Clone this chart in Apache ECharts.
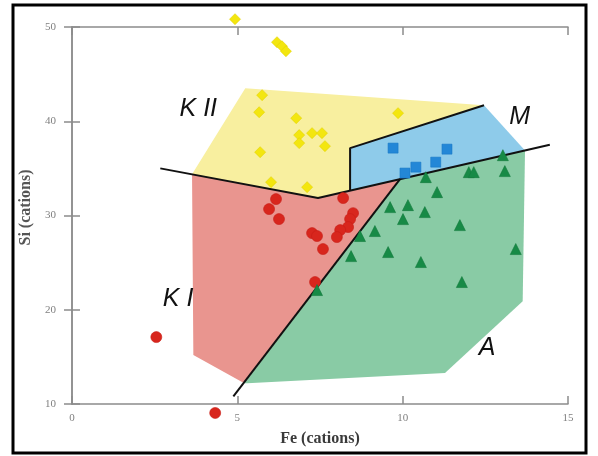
<!DOCTYPE html>
<html>
<head>
<meta charset="utf-8">
<script src="https://cdn.jsdelivr.net/npm/echarts@6/dist/echarts.min.js"></script>
<style>
  html, body { margin: 0; padding: 0; background: #fff; }
  #chart { width: 598px; height: 456px; }
</style>
</head>
<body>
<div id="chart"></div>
<script>
// Fe vs Si (cations) discrimination diagram: fields K I, K II, M, A

// Field polygons [Fe, Si]
const fieldKII = [[5.24, 43.5], [12.46, 41.7], [8.41, 37.15], [8.41, 32.63], [7.44, 31.85], [3.63, 34.37]];
const fieldKI  = [[3.63, 34.37], [7.44, 31.85], [9.92, 33.85], [5.21, 12.2], [3.67, 15.2]];
const fieldA   = [[5.21, 12.2], [9.92, 33.85], [13.7, 36.9], [13.63, 20.9], [11.28, 13.3], [5.3, 12.2]];
const fieldM   = [[8.41, 32.63], [8.41, 37.15], [12.46, 41.7], [13.7, 36.9]];

// Boundary lines
const lineK  = [[2.67, 35.0], [7.44, 31.85], [14.45, 37.5]];
const lineKA = [[4.88, 10.8], [4.94, 10.95], [9.92, 33.85]];
const lineM  = [[8.41, 32.63], [8.41, 37.15], [12.46, 41.7]];

// Samples [Fe, Si]
const groupKII = [
  [4.93, 50.83], [6.20, 48.39], [6.35, 47.96], [6.47, 47.43], [5.75, 42.77],
  [5.66, 40.96], [6.78, 40.33], [6.87, 38.53], [7.26, 38.74], [7.56, 38.74],
  [6.87, 37.68], [7.65, 37.36], [5.69, 36.72], [6.02, 33.54], [7.11, 33.01],
  [9.86, 40.86]
];
const groupKI = [
  [6.17, 31.74], [5.96, 30.68], [6.26, 29.62], [8.20, 31.85], [8.50, 30.25],
  [8.41, 29.62], [8.35, 28.77], [8.11, 28.45], [8.01, 27.71], [7.26, 28.13],
  [7.41, 27.82], [7.59, 26.44], [7.35, 22.94], [2.55, 17.1], [4.33, 9.05]
];
const groupM = [[9.71, 37.15], [11.34, 37.04], [10.40, 35.13], [11.0, 35.66], [10.07, 34.5]];
const groupA = [
  [10.70, 34.07], [12.0, 34.6], [12.15, 34.6], [13.03, 36.4], [13.09, 34.71],
  [11.04, 32.48], [9.62, 30.89], [10.16, 31.10], [10.67, 30.36], [10.01, 29.62],
  [11.73, 28.98], [9.16, 28.35], [8.71, 27.82], [8.44, 25.69], [9.56, 26.12],
  [10.55, 25.06], [13.42, 26.44], [11.79, 22.94], [7.41, 22.09]
];

// Field names and where they sit
const fieldNames = ['K II', 'K I', 'M', 'A'];
const fieldNamePos = [[3.82, 41.28], [3.21, 21.13], [13.54, 40.43], [12.55, 15.94]];

const xTicks = { min: 0, max: 15, interval: 5 };
const yTicks = { min: 10, max: 50, interval: 10 };

const axisGrey = '#8c8c8c';
const labelFont = 'Liberation Serif';

function polygonSeries(points, color) {
  return {
    type: 'custom',
    coordinateSystem: 'cartesian2d',
    silent: true,
    z: 1,
    data: [0],
    renderItem: function (params, api) {
      return {
        type: 'polygon',
        shape: { points: points.map(p => api.coord(p)) },
        style: { fill: color }
      };
    }
  };
}

function lineSeries(points) {
  return {
    type: 'line',
    data: points,
    symbol: 'none',
    silent: true,
    z: 3,
    lineStyle: { color: '#111', width: 2 },
    animation: false
  };
}

function scatterSeries(data, symbol, size, color, border) {
  return {
    type: 'scatter',
    data: data,
    symbol: symbol,
    symbolSize: size,
    clip: false,
    z: 5,
    itemStyle: { color: color, borderColor: border, borderWidth: 0.6, opacity: 1 }
  };
}

const chart = echarts.init(document.getElementById('chart'));

chart.setOption({
  animation: false,
  backgroundColor: '#fff',
  grid: { left: 72, right: 30, top: 27, bottom: 52 },
  xAxis: [
    {
      type: 'value', position: 'bottom', ...xTicks,
      name: 'Fe (cations)', nameLocation: 'middle', nameGap: 27,
      nameTextStyle: { fontFamily: labelFont, fontSize: 16, fontWeight: 'bold', color: '#3a3a3a' },
      axisLine: { show: true, lineStyle: { color: axisGrey, width: 1.5 } },
      axisTick: { show: true, inside: true, length: 8, lineStyle: { color: axisGrey, width: 1.5 } },
      axisLabel: { margin: 9, fontFamily: labelFont, fontSize: 11, color: '#808080' },
      splitLine: { show: false }
    },
    {
      type: 'value', position: 'top', ...xTicks,
      axisLine: { show: true, lineStyle: { color: axisGrey, width: 1.5 } },
      axisTick: { show: true, inside: true, length: 8, lineStyle: { color: axisGrey, width: 1.5 } },
      axisLabel: { show: false },
      splitLine: { show: false }
    }
  ],
  yAxis: [
    {
      type: 'value', position: 'left', ...yTicks,
      name: 'Si (cations)', nameLocation: 'middle', nameGap: 34,
      nameTextStyle: { fontFamily: labelFont, fontSize: 16, fontWeight: 'bold', color: '#555', padding: [0, 0, 0, 16] },
      axisLine: { show: true, lineStyle: { color: axisGrey, width: 1.5 } },
      axisTick: { show: true, inside: true, length: 8, lineStyle: { color: axisGrey, width: 1.5 } },
      axisLabel: { margin: 16, fontFamily: labelFont, fontSize: 11, color: '#808080' },
      splitLine: { show: false }
    },
    {
      type: 'value', position: 'right', ...yTicks,
      axisLine: { show: true, lineStyle: { color: axisGrey, width: 1.5 } },
      axisTick: { show: true, inside: true, length: 8, lineStyle: { color: axisGrey, width: 1.5 } },
      axisLabel: { show: false },
      splitLine: { show: false }
    }
  ],
  graphic: [
    {
      type: 'rect',
      shape: { x: 13, y: 5, width: 573, height: 448 },
      style: { fill: 'none', stroke: '#000', lineWidth: 3 },
      z: 100,
      silent: true
    }
  ],
  series: [
    polygonSeries(fieldKII, '#f8ef9f'),
    polygonSeries(fieldKI, '#e9958f'),
    polygonSeries(fieldA, '#89cba5'),
    polygonSeries(fieldM, '#8ecbea'),
    lineSeries(lineK),
    lineSeries(lineKA),
    lineSeries(lineM),
    scatterSeries(groupKII, 'diamond', 11, '#f3e60f', '#e2d200'),
    scatterSeries(groupKI, 'circle', 11, '#d8261d', '#c81d15'),
    scatterSeries(groupM, 'rect', 10, '#2387d7', '#1a78c6'),
    scatterSeries(groupA, 'triangle', 11, '#178a46', '#137a3c'),
    {
      type: 'scatter',
      z: 6,
      silent: true,
      symbolSize: 1,
      itemStyle: { color: 'rgba(0,0,0,0)' },
      data: fieldNames.map((n, i) => ({ name: n, value: fieldNamePos[i] })),
      label: {
        show: true, position: 'inside', formatter: '{b}',
        fontFamily: 'Liberation Sans', fontStyle: 'italic', fontSize: 25,
        color: '#111', textBorderWidth: 0, opacity: 1
      }
    }
  ]
});
</script>
</body>
</html>
